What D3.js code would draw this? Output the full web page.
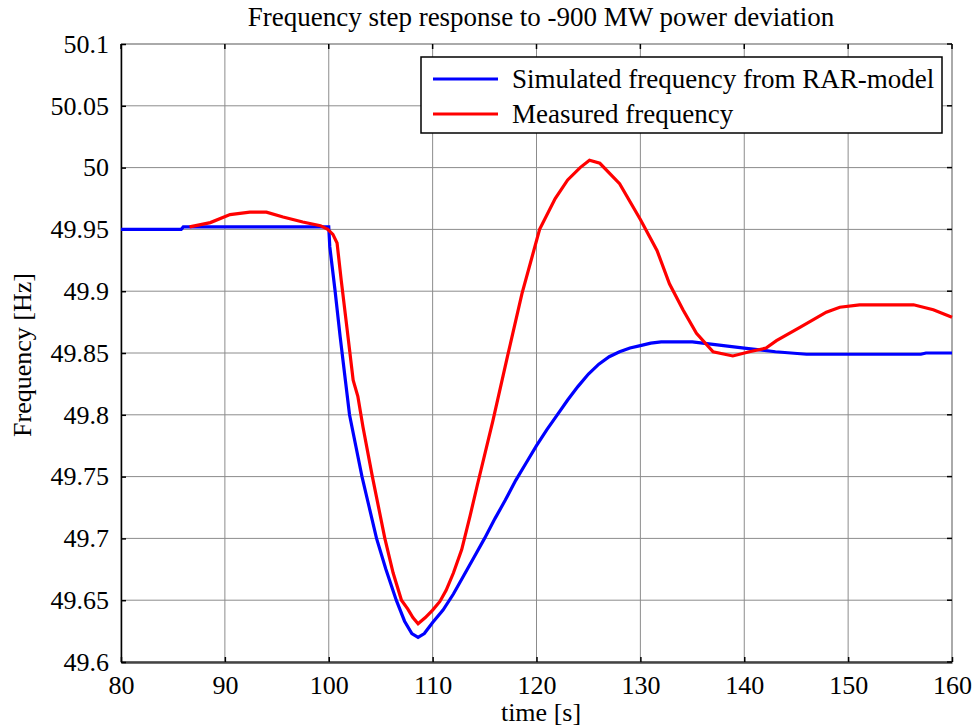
<!DOCTYPE html>
<html>
<head>
<meta charset="utf-8">
<script src="https://cdn.jsdelivr.net/npm/d3@7"></script>
<style>
  body { margin: 0; background: #fff; }
  text { font-family: "Liberation Serif", "DejaVu Serif", serif; fill: #000; }
</style>
</head>
<body>
<svg id="chart" width="974" height="726"></svg>
<script>
// values
const xTicks = [80, 90, 100, 110, 120, 130, 140, 150, 160];
const yTicks = [49.6, 49.65, 49.7, 49.75, 49.8, 49.85, 49.9, 49.95, 50, 50.05, 50.1];

const simTime = [80, 85.8, 86, 100, 100.1, 100.6, 101.1, 101.6, 102, 102.6, 103.2, 103.9, 104.6, 105.5, 106.5, 107.3, 108, 108.6, 109.2, 110, 111, 112, 113, 114, 115, 116, 117, 118, 119, 120, 121, 122, 123, 124, 125, 126, 127, 128, 129, 130, 131, 132, 135, 137, 140, 143, 146, 150, 157, 157.5, 160];
const simFreq = [49.95, 49.95, 49.952, 49.952, 49.936, 49.901, 49.863, 49.828, 49.8, 49.775, 49.75, 49.725, 49.7, 49.675, 49.65, 49.633, 49.623, 49.62, 49.623, 49.632, 49.642, 49.655, 49.67, 49.685, 49.7, 49.716, 49.731, 49.747, 49.761, 49.775, 49.788, 49.8, 49.812, 49.823, 49.833, 49.841, 49.847, 49.851, 49.854, 49.856, 49.858, 49.859, 49.859, 49.857, 49.854, 49.851, 49.849, 49.849, 49.849, 49.85, 49.85];

const measTime = [86.6, 88.6, 90.5, 92.4, 94, 95.6, 97.5, 99.2, 99.9, 100.4, 100.8, 101.2, 101.7, 102.35, 102.8, 103.3, 104.2, 105.4, 106.2, 107, 107.6, 108.1, 108.6, 109.3, 110, 110.7, 111.3, 112, 112.8, 113.6, 114.3, 115.8, 117.2, 118.6, 120.3, 121.8, 123, 124.2, 125.1, 126.1, 128, 130, 131.6, 132.8, 134.1, 135.4, 137, 138.9, 140.5, 142.1, 143.1, 145.4, 147.9, 149.2, 151.1, 156.3, 158.2, 160];
const measFreq = [49.952, 49.9555, 49.962, 49.964, 49.964, 49.96, 49.956, 49.953, 49.95, 49.946, 49.939, 49.909, 49.874, 49.828, 49.815, 49.79, 49.75, 49.7, 49.672, 49.65, 49.643, 49.636, 49.631, 49.636, 49.642, 49.649, 49.658, 49.672, 49.691, 49.718, 49.743, 49.795, 49.847, 49.898, 49.95, 49.975, 49.99, 50, 50.006, 50.0035, 49.987, 49.958, 49.933, 49.906, 49.885, 49.866, 49.851, 49.8476, 49.851, 49.854, 49.86, 49.871, 49.883, 49.887, 49.889, 49.889, 49.885, 49.879];

const legendLabels = ["Simulated frequency from RAR-model", "Measured frequency"];
const colors = ["#0000ff", "#ff0000"];

const svg = d3.select("#chart");
const mLeft = 121, mRight = 952, mTop = 44, mBottom = 662;
const serif = '"Liberation Serif", "DejaVu Serif", serif';

const x = d3.scaleLinear().domain([80, 160]).range([mLeft, mRight]);
const y = d3.scaleLinear().domain([49.6, 50.1]).range([mBottom, mTop]);

// grid
svg.append("g").selectAll("line").data(xTicks).enter().append("line")
  .attr("x1", d => x(d)).attr("x2", d => x(d)).attr("y1", mTop).attr("y2", mBottom)
  .attr("stroke", "#8c8c8c").attr("stroke-width", 1);
svg.append("g").selectAll("line").data(yTicks).enter().append("line")
  .attr("x1", mLeft).attr("x2", mRight).attr("y1", d => y(d)).attr("y2", d => y(d))
  .attr("stroke", "#8c8c8c").attr("stroke-width", 1);

// box edges
svg.append("line").attr("x1", mLeft).attr("x2", mRight).attr("y1", mTop).attr("y2", mTop)
  .attr("stroke", "#a0a0a0").attr("stroke-width", 1.5);
svg.append("line").attr("x1", mRight).attr("x2", mRight).attr("y1", mTop).attr("y2", mBottom)
  .attr("stroke", "#a0a0a0").attr("stroke-width", 1.5);

// axes, ticks inward
const xAxis = svg.append("g").attr("transform", `translate(0,${mBottom})`)
  .call(d3.axisBottom(x).tickValues(xTicks).tickSizeInner(-5).tickSizeOuter(0).tickPadding(14).tickFormat(d3.format("d")));
const yAxis = svg.append("g").attr("transform", `translate(${mLeft},0)`)
  .call(d3.axisLeft(y).tickValues(yTicks).tickSizeInner(-5).tickSizeOuter(0).tickPadding(12).tickFormat(d => String(+d.toFixed(2))));
xAxis.select(".domain").attr("stroke", "#444").attr("stroke-width", 2.5);
yAxis.select(".domain").attr("stroke", "#000").attr("stroke-width", 1.5);
xAxis.selectAll(".tick line").attr("stroke", "#000").attr("stroke-width", 1.5);
yAxis.selectAll(".tick line").attr("stroke", "#000").attr("stroke-width", 1.5);
xAxis.selectAll("text").style("font-family", serif).style("font-size", "26px").attr("fill", "#000");
yAxis.selectAll("text").style("font-family", serif).style("font-size", "26px").attr("fill", "#000");

// top / right ticks
svg.append("g").selectAll("line").data(xTicks).enter().append("line")
  .attr("x1", d => x(d)).attr("x2", d => x(d)).attr("y1", mTop).attr("y2", mTop + 5)
  .attr("stroke", "#000").attr("stroke-width", 1.5);
svg.append("g").selectAll("line").data(yTicks).enter().append("line")
  .attr("x1", mRight - 5).attr("x2", mRight).attr("y1", d => y(d)).attr("y2", d => y(d))
  .attr("stroke", "#000").attr("stroke-width", 1.5);

// lines
const line = d3.line().x(d => x(d[0])).y(d => y(d[1]));
svg.append("path").datum(simTime.map((t, i) => [t, simFreq[i]]))
  .attr("d", line).attr("fill", "none").attr("stroke", colors[0]).attr("stroke-width", 3.2);
svg.append("path").datum(measTime.map((t, i) => [t, measFreq[i]]))
  .attr("d", line).attr("fill", "none").attr("stroke", colors[1]).attr("stroke-width", 3.2);

// legend
const lg = svg.append("g");
lg.append("rect").attr("x", 421).attr("y", 57).attr("width", 521).attr("height", 76)
  .attr("fill", "#fff").attr("stroke", "#000").attr("stroke-width", 1.5);
legendLabels.forEach((lab, i) => {
  const ly = 79 + i * 35;
  lg.append("line").attr("x1", 433).attr("x2", 498).attr("y1", ly).attr("y2", ly)
    .attr("stroke", colors[i]).attr("stroke-width", 3.2);
  lg.append("text").attr("x", 512).attr("y", ly + 9).attr("font-size", 27).text(lab);
});

// titles
svg.append("text").attr("x", 541).attr("y", 26).attr("text-anchor", "middle")
  .attr("font-size", 27).text("Frequency step response to -900 MW power deviation");
svg.append("text").attr("x", 541).attr("y", 721).attr("text-anchor", "middle")
  .attr("font-size", 26).text("time [s]");
svg.append("text").attr("transform", "translate(31,355) rotate(-90)").attr("text-anchor", "middle")
  .attr("font-size", 26).text("Frequency [Hz]");
</script>
</body>
</html>
